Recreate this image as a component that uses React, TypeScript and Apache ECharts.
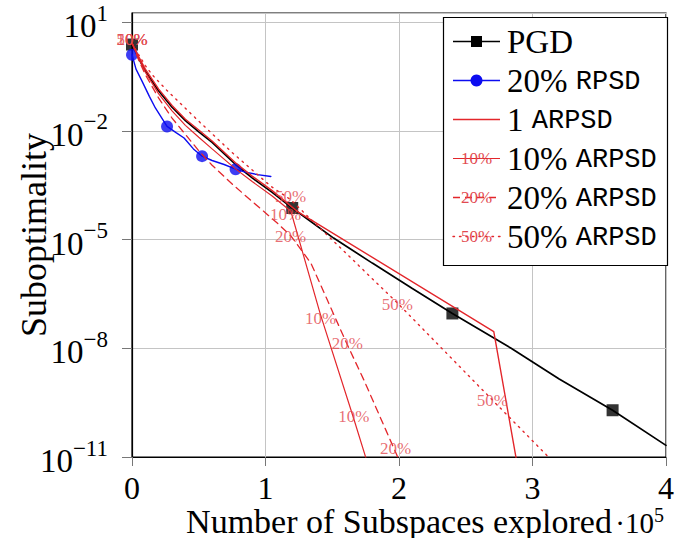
import { useEffect, useRef } from 'react';
import * as echarts from 'echarts';

// x: number of subspaces explored, in units of 1e5 (axis carries "·10^5")
// y: log10(suboptimality)
const pgdX = [0, 0.05, 0.1, 0.2, 0.3, 0.4, 0.5, 0.6, 0.775, 0.9, 1.05, 1.2, 1.51, 1.8, 2.1, 2.4, 2.84, 3.2, 3.6, 4.0];
const pgdLog = [0.38, 0.0, -0.35, -0.9, -1.35, -1.72, -2.03, -2.32, -2.93, -3.3, -3.7, -4.13, -4.96, -5.65, -6.35, -7.04, -8.0, -8.85, -9.71, -10.68];
const pgdMarkX = [0, 1.2, 2.4, 3.6];
const pgdMarkLog = [0.38, -4.13, -7.04, -9.71];

const rpsdX = [0, 0.03, 0.075, 0.13, 0.175, 0.2625, 0.33, 0.39, 0.46, 0.525, 0.6, 0.69, 0.776, 0.85, 0.94, 1.04];
const rpsdLog = [0.1, -0.3, -0.63, -1.05, -1.37, -1.88, -2.05, -2.2, -2.5, -2.7, -2.82, -2.93, -3.06, -3.14, -3.21, -3.26];
const rpsdMarkX = [0, 0.2625, 0.525, 0.776];
const rpsdMarkLog = [0.1, -1.88, -2.7, -3.06];

const arpsd1X = [0, 0.05, 0.1, 0.2, 0.3, 0.4, 0.5, 0.6, 0.775, 0.9, 1.05, 1.24, 2.71, 2.89];
const arpsd1Log = [0.42, 0.05, -0.3, -0.85, -1.3, -1.68, -1.98, -2.28, -2.88, -3.25, -3.65, -4.23, -7.54, -11.3];

const arpsd10X = [0, 0.05, 0.1, 0.2, 0.3, 0.4, 0.5, 0.6, 0.775, 0.9, 1.05, 1.19, 1.41, 1.66, 1.775];
const arpsd10Log = [0.42, 0.0, -0.38, -0.98, -1.45, -1.85, -2.18, -2.5, -3.05, -3.4, -3.8, -4.22, -7.05, -9.93, -11.3];

const arpsd20X = [0, 0.05, 0.1, 0.2, 0.3, 0.4, 0.5, 0.6, 0.76, 0.9, 1.09, 1.19, 1.34, 1.6, 1.74, 1.99, 2.03];
const arpsd20Log = [0.42, -0.05, -0.45, -1.1, -1.65, -2.1, -2.55, -2.95, -3.5, -3.95, -4.55, -4.9, -5.65, -7.8, -8.9, -11.0, -11.4];

const arpsd50X = [0, 0.05, 0.1, 0.15, 0.26, 0.4, 0.51, 0.75, 1.04, 1.188, 1.988, 2.7, 3.2];
const arpsd50Log = [0.42, 0.1, -0.2, -0.45, -0.88, -1.38, -1.77, -2.6, -3.53, -3.9, -6.75, -9.43, -11.3];

// text marks ("10%", "20%", "50%") placed along the ARPSD curves
const mark10X = [0, 1.151, 1.412, 1.662];
const mark10Log = [0.52, -4.32, -7.17, -9.89];
const mark20X = [0, 1.188, 1.613, 1.975];
const mark20Log = [0.52, -4.92, -7.86, -10.76];
const mark50X = [0, 1.188, 1.988, 2.7];
const mark50Log = [0.52, -3.81, -6.78, -9.43];

const xTicks = [0, 1, 2, 3, 4];
const yMinExp = -11;
const yMaxExp = 1.25;
const yStepExp = 3;

const legendNames = ['PGD', '20% RPSD', '1 ARPSD', '10% ARPSD', '20% ARPSD', '50% ARPSD'];

const RED = '#e3262b';
const MARKRED = '#e24a50';
const BLUE = '#0c0cf0';
const BLACK = '#000000';
const SERIF = 'Liberation Serif';
const MONO = 'Liberation Mono';

const pairs = (xs: number[], ys: number[]) => xs.map((x, i) => [x, ys[i] - yMinExp]);

function measure(txt: string, font: string) {
  const c = document.createElement('canvas').getContext('2d');
  if (!c) return txt.length * 15;
  c.font = font;
  return c.measureText(txt).width;
}

function App() {
  const ref = useRef<HTMLDivElement>(null);
  useEffect(() => {
    if (!ref.current) return;
    const chart = echarts.init(ref.current, null, { renderer: 'svg' });

    const lineSeries = (name: string, xs: number[], ys: number[], color: string, width: number, type: any, z: number) => ({
      name,
      type: 'line',
      data: pairs(xs, ys),
      symbol: 'none',
      smooth: false,
      clip: true,
      z,
      lineStyle: { color, width, type, cap: 'round' },
    });

    const textMarks = (name: string, xs: number[], ys: number[], txt: string) => ({
      name,
      type: 'scatter',
      data: pairs(xs, ys),
      symbol: 'circle',
      symbolSize: 1,
      clip: false,
      z: 10,
      itemStyle: { color: 'transparent' },
      label: {
        show: true,
        position: 'inside',
        formatter: txt,
        color: MARKRED,
        fontFamily: SERIF,
        fontSize: 17,
      },
    });

    const ROW0 = 41.5;
    const ROWSTEP = 39;
    const LX1 = 453;
    const LX2 = 500;
    const LMID = (LX1 + LX2) / 2;
    const TX = 507;
    const legendEls: any[] = [
      {
        type: 'rect',
        shape: { x: 443.5, y: 17.5, width: 224, height: 248 },
        style: { fill: '#fff', stroke: '#000', lineWidth: 1.2 },
        z: 20,
      },
    ];
    const sampleStyles = [
      { stroke: BLACK, lineWidth: 1.7 },
      { stroke: BLUE, lineWidth: 1.4 },
      { stroke: RED, lineWidth: 1.4 },
      { stroke: RED, lineWidth: 1.2 },
      { stroke: RED, lineWidth: 1.3, lineDash: [7, 5] },
      { stroke: RED, lineWidth: 1.4, lineDash: [1.5, 5], lineCap: 'round' },
    ];
    const sampleMarks = ['', '', '', '10%', '20%', '50%'];

    const plainText = (txt: string, x: number, y: number, family: string, size: number, color: string, align: string) => ({
      type: 'text',
      x,
      y,
      z: 22,
      style: {
        text: txt,
        fill: color,
        fontFamily: family,
        fontSize: size,
        fontWeight: 'normal',
        align,
        verticalAlign: 'middle',
      },
    });

    legendNames.forEach((nm, i) => {
      const y = ROW0 + ROWSTEP * i;
      legendEls.push({
        type: 'line',
        shape: { x1: LX1, y1: y, x2: LX2, y2: y },
        style: sampleStyles[i],
        z: 21,
      });
      if (i === 0) {
        legendEls.push({
          type: 'rect',
          shape: { x: LMID - 5.5, y: y - 5.5, width: 11, height: 11 },
          style: { fill: BLACK },
          z: 22,
        });
      }
      if (i === 1) {
        legendEls.push({
          type: 'circle',
          shape: { cx: LMID, cy: y, r: 6 },
          style: { fill: BLUE },
          z: 22,
        });
      }
      if (sampleMarks[i]) {
        legendEls.push(plainText(sampleMarks[i], LMID, y, SERIF, 17, MARKRED, 'center'));
      }
      const parts = nm.split(' ');
      const serifPart = parts[0];
      const monoPart = parts.length > 1 ? parts[1] : '';
      legendEls.push(plainText(serifPart, TX, y, SERIF, 33, '#000', 'left'));
      if (monoPart) {
        const w = measure(serifPart + ' ', `33px ${SERIF}`);
        legendEls.push(plainText(monoPart, TX + w, y + 1, MONO, 27, '#000', 'left'));
      }
    });

    // "·10^5" scale label
    const sW = measure('5', `20px ${SERIF}`);
    const bW = measure('·10', `29px ${SERIF}`);
    const RIGHT = 664;
    legendEls.push(plainText('5', RIGHT - sW, 515, SERIF, 20, '#000', 'left'));
    legendEls.push(plainText('·10', RIGHT - sW - bW, 523, SERIF, 29, '#000', 'left'));

    const option: any = {
      animation: false,
      backgroundColor: '#fff',
      textStyle: { fontFamily: SERIF },
      grid: {
        left: 132,
        right: 9,
        top: 13,
        bottom: 81,
        show: true,
        borderColor: '#000',
        borderWidth: 1.2,
        backgroundColor: 'transparent',
        containLabel: false,
        outerBoundsMode: 'none',
      },
      xAxis: {
        type: 'value',
        min: xTicks[0],
        max: xTicks[xTicks.length - 1],
        interval: 1,
        name: 'Number of Subspaces explored',
        nameLocation: 'middle',
        nameGap: 48,
        nameMoveOverlap: false,
        nameTextStyle: { fontFamily: SERIF, fontSize: 34, color: '#000', lineHeight: 32 },
        axisLine: { show: true, lineStyle: { color: '#000', width: 1.2 } },
        axisTick: { show: true, inside: false, length: 9, lineStyle: { color: '#777', width: 1 } },
        axisLabel: {
          show: true,
          margin: 18,
          fontFamily: SERIF,
          fontSize: 32,
          lineHeight: 26,
          color: '#000',
          formatter: (v: number) => String(v),
        },
        splitLine: { show: true, lineStyle: { color: '#c4c4c4', width: 1 } },
      },
      yAxis: {
        type: 'value',
        min: 0,
        max: yMaxExp - yMinExp,
        interval: yStepExp,
        name: 'Suboptimality',
        nameLocation: 'middle',
        nameRotate: 90,
        nameGap: 80,
        nameMoveOverlap: false,
        nameTextStyle: { fontFamily: SERIF, fontSize: 36, color: '#000' },
        axisLine: { show: true, lineStyle: { color: '#000', width: 1.2 } },
        axisTick: { show: true, inside: false, length: 10, lineStyle: { color: '#777', width: 1 } },
        axisLabel: {
          show: true,
          margin: 24,
          showMaxLabel: false,
          color: '#000',
          formatter: (v: number) => {
            const e = v + yMinExp;
            const r = Math.round(e);
            if (Math.abs(e - r) > 1e-6) return '';
            const sup = r < 0 ? '−' + String(-r) : String(r);
            return `{b|10}{s|${sup}}`;
          },
          rich: {
            b: { fontFamily: SERIF, fontSize: 33, color: '#000', padding: [8, 0, 0, 0] },
            s: { fontFamily: SERIF, fontSize: 23, color: '#000', verticalAlign: 'top' },
          },
        },
        splitLine: { show: true, lineStyle: { color: '#c4c4c4', width: 1 } },
      },
      series: [
        lineSeries('PGD', pgdX, pgdLog, BLACK, 1.7, 'solid', 3),
        {
          name: 'PGD',
          type: 'scatter',
          data: pairs(pgdMarkX, pgdMarkLog),
          symbol: 'rect',
          symbolSize: 12,
          z: 4,
          itemStyle: { color: BLACK },
        },
        lineSeries('20% RPSD', rpsdX, rpsdLog, BLUE, 1.4, 'solid', 3),
        {
          name: '20% RPSD',
          type: 'scatter',
          data: pairs(rpsdMarkX, rpsdMarkLog),
          symbol: 'circle',
          symbolSize: 12,
          z: 4,
          itemStyle: { color: BLUE },
        },
        lineSeries('1 ARPSD', arpsd1X, arpsd1Log, RED, 1.4, 'solid', 5),
        lineSeries('10% ARPSD', arpsd10X, arpsd10Log, RED, 1.2, 'solid', 5),
        lineSeries('20% ARPSD', arpsd20X, arpsd20Log, RED, 1.3, [7, 5], 5),
        lineSeries('50% ARPSD', arpsd50X, arpsd50Log, RED, 1.4, [1.5, 5], 5),
        textMarks('10% ARPSD', mark10X, mark10Log, '10%'),
        textMarks('20% ARPSD', mark20X, mark20Log, '20%'),
        textMarks('50% ARPSD', mark50X, mark50Log, '50%'),
      ],
      graphic: { elements: legendEls },
    };
    chart.setOption(option);
    return () => chart.dispose();
  }, []);
  return (
    <div
      ref={ref}
      style={{ position: 'fixed', left: 0, top: 0, width: 675, height: 538, background: '#fff' }}
    />
  );
}

export default App;
